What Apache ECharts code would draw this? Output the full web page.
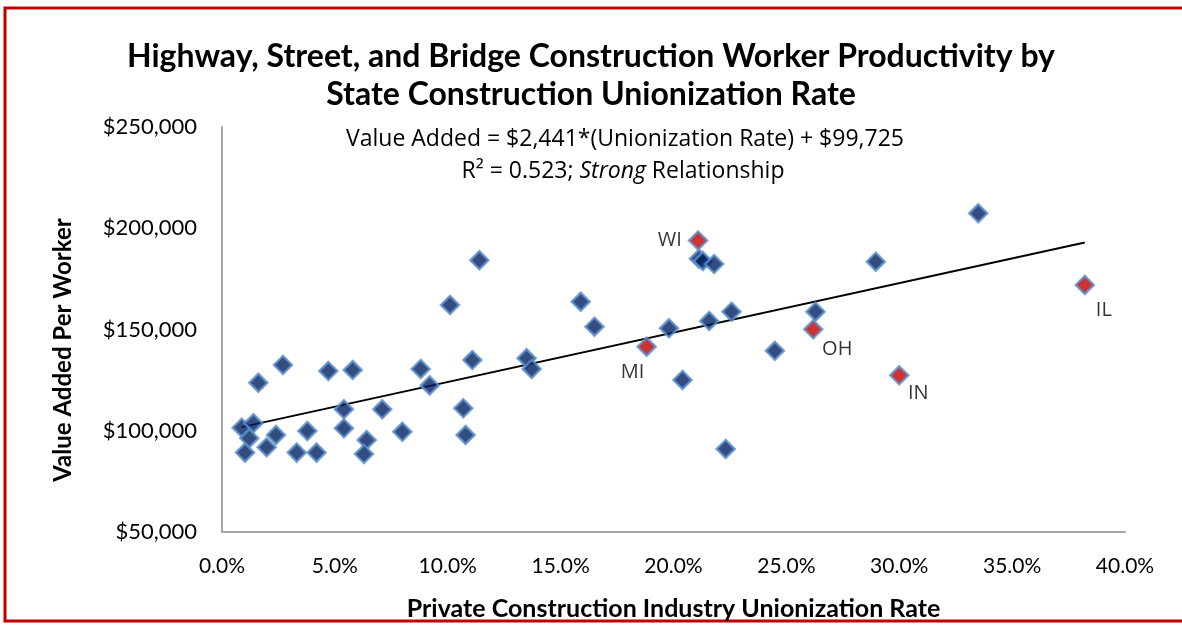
<!DOCTYPE html>
<html lang="en">
<head>
  <meta charset="UTF-8">
  <title>highway-productivity</title>
  <script src="https://cdn.jsdelivr.net/npm/echarts@6/dist/echarts.min.js"></script>
  <style>
    html, body { margin: 0; padding: 0; background: #fff; }
    #main { width: 1182px; height: 627px; }
  </style>
</head>
<body>
<div id="main"></div>
<script>
  // states with no label (unionization %, value added $)
  var otherRate = [0.87, 1.39, 1.21, 1.02, 1.61, 1.98, 2.39, 2.70, 3.31, 3.78, 4.19, 4.71,
    5.40, 5.40, 5.79, 6.41, 6.29, 7.10, 7.99, 8.80, 9.20, 10.10, 10.69, 10.79, 11.09, 11.40,
    13.49, 13.72, 15.89, 16.50, 19.80, 20.40, 21.13, 21.30, 21.58, 21.80, 22.31, 22.57,
    24.49, 26.29, 28.96, 33.50];
  var otherValue = [101500, 103700, 96300, 89200, 123700, 91800, 97900, 132500, 89200, 99900, 89200, 129500,
    110600, 101200, 130000, 95400, 88500, 110600, 99500, 130500, 122400, 162100, 111100, 97900, 134900, 184200,
    135800, 130500, 163700, 151400, 150600, 125100, 185000, 183800, 154200, 182300, 91000, 158800,
    139500, 158800, 183500, 207400];

  // labelled states (highlighted red)
  var hiState = ['WI', 'MI', 'OH', 'IN', 'IL'];
  var hiRate = [21.09, 18.81, 26.19, 30.00, 38.22];
  var hiValue = [193900, 141500, 150100, 127400, 172000];

  // trend line end points as drawn
  var trendRate = [0.87, 38.22];
  var trendValue = [101800, 193000];

  var xTicks = ['0.0%', '5.0%', '10.0%', '15.0%', '20.0%', '25.0%', '30.0%', '35.0%', '40.0%'];

  var navy = '#002060';
  var red = '#C00000';
  var edge = '#5B8FCB';
  var calibri = 'Lato, sans-serif';
  var segoe = '"Open Sans", sans-serif';

  window.onload = function () {
    var myChart = echarts.init(document.getElementById('main'));

    var others = otherRate.map(function (r, i) { return [r, otherValue[i]]; });
    var trend = trendRate.map(function (r, i) { return [r, trendValue[i]]; });

    // where each red label sits around its point
    var labelSpot = {
      WI: {position: 'left', distance: 6, offset: [0, 0]},
      MI: {position: 'bottom', distance: 5, offset: [-14, 0]},
      OH: {position: 'bottom', distance: 5, offset: [24, -5]},
      IN: {position: 'bottom', distance: 5, offset: [19, -7]},
      IL: {position: 'bottom', distance: 5, offset: [19, 0]}
    };
    var highlighted = hiState.map(function (s, i) {
      var spot = labelSpot[s];
      return {
        value: [hiRate[i], hiValue[i]],
        name: s,
        label: {
          show: true,
          formatter: s,
          position: spot.position,
          distance: spot.distance,
          offset: spot.offset,
          color: '#000',
          fontFamily: segoe,
          fontSize: 20
        }
      };
    });

    myChart.setOption({
      backgroundColor: '#fff',
      animation: false,
      title: {
        text: 'Highway, Street, and Bridge Construction Worker Productivity by\nState Construction Unionization Rate',
        left: 'center',
        top: 33,
        textStyle: {
          fontFamily: calibri,
          fontWeight: 'bold',
          fontSize: 32,
          lineHeight: 38,
          color: '#000'
        }
      },
      graphic: [
        {
          type: 'rect',
          shape: {x: 5, y: 8, width: 1200, height: 613},
          style: {fill: 'none', stroke: '#C00000', lineWidth: 3},
          silent: true
        },
        {
          type: 'text',
          x: 625,
          y: 139,
          style: {
            text: 'Value Added = $2,441*(Unionization Rate) + $99,725',
            fill: '#000',
            font: '23px "Open Sans", sans-serif',
            align: 'center',
            verticalAlign: 'middle'
          }
        },
        {
          type: 'text',
          x: 623,
          y: 171,
          style: {
            text: '{n|R² = 0.523; }{i|Strong}{n| Relationship}',
            fill: '#000',
            align: 'center',
            verticalAlign: 'middle',
            rich: {
              n: {fontFamily: segoe, fontSize: 23, fill: '#000'},
              i: {fontFamily: segoe, fontSize: 23, fontStyle: 'italic', fill: '#000'}
            }
          }
        },
        {
          // y axis title sits a bit below the plot middle in the original
          type: 'text',
          x: 63,
          y: 350,
          rotation: Math.PI / 2,
          style: {
            text: 'Value Added Per Worker',
            fill: '#000',
            font: 'bold 24px Lato, sans-serif',
            align: 'center',
            verticalAlign: 'middle'
          }
        }
      ],
      grid: {
        left: 222,
        right: 57,
        top: 127,
        bottom: 95
      },
      xAxis: {
        type: 'value',
        min: 0,
        max: 40,
        interval: 5,
        name: 'Private Construction Industry Unionization Rate',
        nameLocation: 'middle',
        nameGap: 64,
        nameTextStyle: {fontFamily: calibri, fontWeight: 'bold', fontSize: 25, color: '#000'},
        axisLine: {show: true, lineStyle: {color: '#A6A6A6', width: 2}},
        axisTick: {show: false},
        splitLine: {show: false},
        axisLabel: {
          margin: 24,
          fontFamily: calibri,
          fontSize: 21,
          color: '#000',
          formatter: function (v) { return xTicks[Math.round(v / 5)]; }
        }
      },
      yAxis: {
        type: 'value',
        min: 50000,
        max: 250000,
        interval: 50000,
        axisLine: {show: true, lineStyle: {color: '#A6A6A6', width: 2}},
        axisTick: {show: false},
        splitLine: {show: false},
        axisLabel: {
          margin: 25,
          fontFamily: calibri,
          fontSize: 22,
          color: '#000',
          formatter: function (v) { return '$' + v.toLocaleString('en-US'); }
        }
      },
      series: [
        {
          name: 'Trend',
          type: 'line',
          data: trend,
          symbol: 'none',
          lineStyle: {color: '#000', width: 2},
          z: 1
        },
        {
          name: 'States',
          type: 'scatter',
          data: others,
          symbol: 'diamond',
          symbolSize: [18, 18],
          itemStyle: {color: navy, borderColor: edge, borderWidth: 2.5},
          z: 3
        },
        {
          name: 'Highlighted',
          type: 'scatter',
          data: highlighted,
          symbol: 'diamond',
          symbolSize: [18, 18],
          itemStyle: {color: red, borderColor: edge, borderWidth: 2.5},
          z: 4
        }
      ]
    });
  };
</script>
</body>
</html>
